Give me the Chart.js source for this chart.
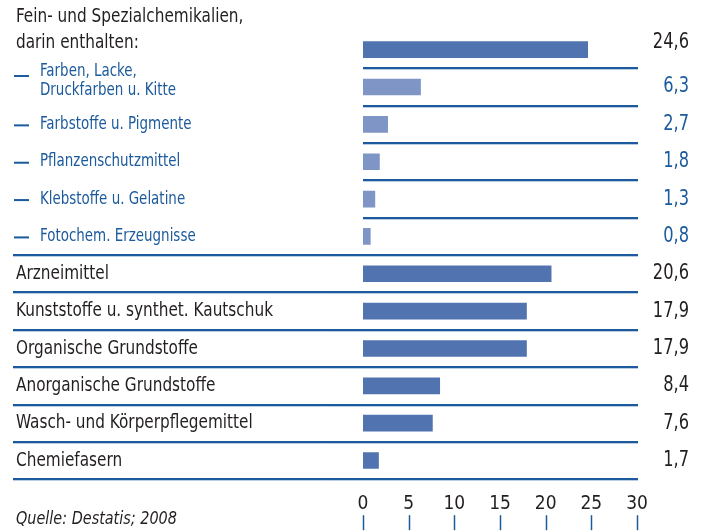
<!DOCTYPE html>
<html>
<head>
<meta charset="utf-8">
<script src="https://cdn.jsdelivr.net/npm/chart.js@4.4.1/dist/chart.umd.min.js"></script>
<style>
  html, body { margin: 0; padding: 0; background: #fff; }
  #wrap { width: 705px; height: 531px; position: relative; }
</style>
</head>
<body>
<div id="wrap"><canvas id="chemChart"></canvas></div>
<script>
// Produktion der chemischen Industrie nach Sparten, Anteil in %
const categories = [
    ['Fein- und Spezialchemikalien,', 'darin enthalten:'],
    ['Farben, Lacke,', 'Druckfarben u. Kitte'],
    ['Farbstoffe u. Pigmente'],
    ['Pflanzenschutzmittel'],
    ['Klebstoffe u. Gelatine'],
    ['Fotochem. Erzeugnisse'],
    ['Arzneimittel'],
    ['Kunststoffe u. synthet. Kautschuk'],
    ['Organische Grundstoffe'],
    ['Anorganische Grundstoffe'],
    ['Wasch- und Körperpflegemittel'],
    ['Chemiefasern']
];
const shares = [24.6, 6.3, 2.7, 1.8, 1.3, 0.8, 20.6, 17.9, 17.9, 8.4, 7.6, 1.7];
const valueLabels = ['24,6', '6,3', '2,7', '1,8', '1,3', '0,8', '20,6', '17,9', '17,9', '8,4', '7,6', '1,7'];
// 1 = Unterposition von "Fein- und Spezialchemikalien"
const subItem = [0, 1, 1, 1, 1, 1, 0, 0, 0, 0, 0, 0];
const xTicks = [0, 5, 10, 15, 20, 25, 30];
const source = 'Quelle: Destatis; 2008';

const FONT = "'DejaVu Sans Condensed', 'Liberation Sans Narrow', sans-serif";
const DARK = '#231f20';
const BLUE = '#1b5a9c';

// schmal gezeichneter Text (Condensed-Optik)
function narrowText(ctx, text, x, y, font, sx, align) {
    ctx.save();
    ctx.font = font;
    ctx.textAlign = align;
    ctx.translate(x, y);
    ctx.scale(sx, 1);
    ctx.fillText(text, 0, 0);
    ctx.restore();
}

const tablePlugin = {
    id: 'tablePlugin',
    afterDraw(chart) {
        const ctx = chart.ctx;
        const x = chart.scales.x;
        const y = chart.scales.y;
        const area = chart.chartArea;
        const band = y.getPixelForValue(1) - y.getPixelForValue(0);
        ctx.save();

        // Trennlinien
        for (let i = 0; i < categories.length; i++) {
            const yy = Math.round(y.getPixelForValue(i) + band / 2);
            const left = subItem[i + 1] === 1 ? area.left : 13;
            ctx.lineWidth = 1;
            ctx.strokeStyle = '#b9cde6';
            ctx.beginPath();
            ctx.moveTo(left, yy + 1.5);
            ctx.lineTo(area.right + 1, yy + 1.5);
            ctx.stroke();
            ctx.lineWidth = 2;
            ctx.strokeStyle = BLUE;
            ctx.beginPath();
            ctx.moveTo(left, yy);
            ctx.lineTo(area.right + 1, yy);
            ctx.stroke();
        }

        // Beschriftungen links und Werte rechts
        ctx.textBaseline = 'middle';
        categories.forEach((lines, i) => {
            const cy = y.getPixelForValue(i);
            const sub = subItem[i] === 1;
            ctx.fillStyle = sub ? BLUE : DARK;
            const font = (sub ? '18px ' : '20px ') + FONT;
            const sx = sub ? 0.83 : 0.85;
            const tx = sub ? 40 : 16;
            if (lines.length === 2) {
                const off = sub ? [-16, 3] : [-33, -7];
                narrowText(ctx, lines[0], tx, cy + off[0], font, sx, 'left');
                narrowText(ctx, lines[1], tx, cy + off[1], font, sx, 'left');
                if (sub) {
                    ctx.fillRect(14, cy - 12, 15, 2);
                }
            } else {
                narrowText(ctx, lines[0], tx, cy, font, sx, 'left');
                if (sub) {
                    ctx.fillRect(14, cy, 15, 2);
                }
            }
            narrowText(ctx, valueLabels[i], 689, lines.length === 2 && !sub ? cy - 7 : cy,
                '21px ' + FONT, 0.86, 'right');
        });

        // Skalenstriche unter den Zahlen
        ctx.strokeStyle = BLUE;
        ctx.lineWidth = 1.5;
        x.ticks.forEach(t => {
            const px = Math.round(x.getPixelForValue(t.value)) + 0.5;
            ctx.beginPath();
            ctx.moveTo(px, area.bottom + 36);
            ctx.lineTo(px, area.bottom + 51);
            ctx.stroke();
        });

        // Quelle
        ctx.fillStyle = DARK;
        narrowText(ctx, source, 16, area.bottom + 40, 'italic 18px ' + FONT, 0.89, 'left');
        ctx.restore();
    }
};

const ctx = document.getElementById('chemChart').getContext('2d');
new Chart(ctx, {
    type: 'bar',
    data: {
        labels: categories,
        datasets: [{
            data: shares,
            backgroundColor: subItem.map(s => s ? '#7f95c6' : '#5174b0'),
            barThickness: 16
        }]
    },
    options: {
        indexAxis: 'y',
        responsive: true,
        maintainAspectRatio: false,
        animation: false,
        layout: {
            padding: { top: 31, left: 363, right: 68, bottom: 3 }
        },
        plugins: {
            legend: { display: false },
            tooltip: { enabled: false }
        },
        scales: {
            x: {
                min: 0,
                max: 30,
                afterBuildTicks: axis => {
                    axis.ticks = xTicks.map(v => ({ value: v }));
                },
                grid: { display: false, drawTicks: false },
                border: { display: false },
                ticks: {
                    padding: 13,
                    color: DARK,
                    font: { family: FONT, size: 19 }
                }
            },
            y: {
                display: false,
                grid: { display: false }
            }
        }
    },
    plugins: [tablePlugin]
});
</script>
</body>
</html>
